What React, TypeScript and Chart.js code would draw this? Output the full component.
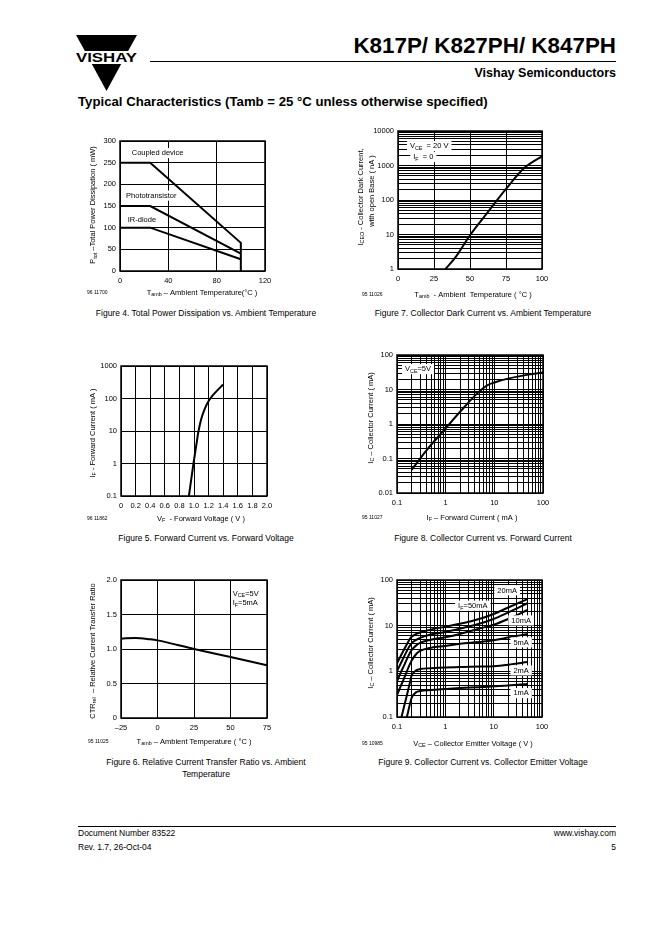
import React, { useEffect, useRef } from 'react';
import { Chart, registerables } from 'chart.js';

Chart.register(...registerables);

const FONT = '"Liberation Sans", Arial, Helvetica, sans-serif';

// ---------- Figure 4: total power dissipation ----------
const fig4TempCoupled = [0, 25, 100, 100];
const fig4Coupled = [250, 250, 65, 0];
const fig4TempPhoto = [0, 25, 100];
const fig4Photo = [150, 150, 40];
const fig4TempIr = [0, 25, 100];
const fig4Ir = [100, 100, 27];
const fig4XTicks = [0, 40, 80, 120];
const fig4YTicks = [0, 50, 100, 150, 200, 250, 300];

// ---------- Figure 7: collector dark current ----------
const fig7Temp = [33, 40, 50, 62.5, 75, 87.5, 100];
const fig7Iceo = [1, 2.2, 9.5, 45, 210, 830, 1850];
const fig7XTicks = [0, 25, 50, 75, 100];
const fig7YTicks = [1, 10, 100, 1000, 10000];

// ---------- Figure 5: forward current vs forward voltage ----------
const fig5Vf = [0.93, 0.99, 1.03, 1.06, 1.1, 1.15, 1.2, 1.25, 1.3, 1.4];
const fig5If = [0.1, 0.9, 3.5, 9.5, 24, 50, 84, 120, 160, 270];
const fig5XTicks = [0, 0.2, 0.4, 0.6, 0.8, 1.0, 1.2, 1.4, 1.6, 1.8, 2.0];
const fig5YTicks = [0.1, 1, 10, 100, 1000];

// ---------- Figure 8: collector current vs forward current ----------
const fig8If = [0.2, 0.4, 1, 2, 4.4, 7, 10, 20, 50, 100];
const fig8Ic = [0.047, 0.17, 0.75, 2.3, 7.6, 13, 16, 21, 27, 31];
const fig8XTicks = [0.1, 1, 10, 100];
const fig8YTicks = [0.01, 0.1, 1, 10, 100];

// ---------- Figure 6: relative CTR vs ambient temperature ----------
const fig6Temp = [-25, -15, -5, 0, 25, 50, 75];
const fig6Ctr = [1.15, 1.16, 1.14, 1.125, 1.0, 0.885, 0.765];
const fig6XTicks = [-25, 0, 25, 50, 75];
const fig6YTicks = [0, 0.5, 1.0, 1.5, 2.0];

// ---------- Figure 9: collector current vs collector emitter voltage ----------
const fig9Vce = [0.1, 0.12, 0.14, 0.16, 0.18, 0.2, 0.25, 0.3, 0.5, 1, 2, 5, 10, 20, 50];
const fig9Ic50mA = [1.5, 2.2, 3.0, 3.9, 4.9, 5.7, 6.6, 7.1, 8.2, 9.5, 11, 14, 18, 25, 38];
const fig9Ic20mA = [1.0, 1.5, 2.1, 2.8, 3.5, 4.1, 4.9, 5.4, 6.4, 7.3, 8.6, 11, 14, 19.5, 31];
const fig9Ic10mA = [0.6, 0.95, 1.35, 1.85, 2.4, 2.9, 3.7, 4.2, 4.9, 5.6, 6.6, 8.6, 10.5, 14, 22];
const fig9Ic5mA = [0.3, 0.48, 0.7, 1.0, 1.35, 1.7, 2.4, 2.8, 3.3, 3.6, 4.0, 4.4, 4.8, 5.5, 6.6];
const fig9Ic2mA = [0.065, 0.09, 0.17, 0.3, 0.5, 0.8, 1.05, 1.12, 1.17, 1.22, 1.24, 1.27, 1.3, 1.4, 1.6];
const fig9Ic1mA = [0.02, 0.035, 0.06, 0.1, 0.17, 0.26, 0.35, 0.37, 0.39, 0.41, 0.43, 0.45, 0.47, 0.49, 0.53];
const fig9XTicks = [0.1, 1, 10, 100];
const fig9YTicks = [0.1, 1, 10, 100];

// ---------------------------------------------------------------------------
type Seg = [string, boolean?];
interface TextItem {
  segs: Seg[];
  x: number;
  y: number;
  data?: boolean;
  align?: 'left' | 'center' | 'right';
  rotate?: boolean;
  size?: number;
  bg?: boolean;
}
interface AxisDef {
  type: 'linear' | 'logarithmic';
  min: number;
  max: number;
  labels: number[];
  grid: number[];
  fmt: (v: number) => string;
}
interface Series { x: number[]; y: number[]; smooth: boolean }
interface FigDef { l: number; t: number; w: number; h: number; x: AxisDef; y: AxisDef; series: Series[]; texts: TextItem[] }

const ML = 50, MT = 12, MR = 18, MB = 34;

function logGrid(min: number, max: number): number[] {
  const out: number[] = [];
  const k0 = Math.floor(Math.log10(min) + 1e-9);
  const k1 = Math.ceil(Math.log10(max) - 1e-9);
  for (let k = k0; k <= k1; k++) {
    for (let m = 1; m <= 9; m++) {
      const v = parseFloat((m * Math.pow(10, k)).toPrecision(6));
      if (v >= min * 0.999999 && v <= max * 1.000001) out.push(v);
    }
  }
  return out;
}

const plain = (v: number) => String(v);
const oneDec = (v: number) => (v === 0 ? '0' : v.toFixed(1));
const dashNeg = (v: number) => (v < 0 ? '\u2013' + Math.abs(v) : String(v));

function drawRich(ctx: CanvasRenderingContext2D, it: TextItem, x: number, y: number) {
  const size = it.size ?? 7.5;
  const sub = size * 0.72;
  ctx.save();
  ctx.translate(x, y);
  if (it.rotate) ctx.rotate(-Math.PI / 2);
  const widths = it.segs.map(([t, s]) => {
    ctx.font = `${s ? sub : size}px ${FONT}`;
    return ctx.measureText(t).width;
  });
  const total = widths.reduce((p, c) => p + c, 0);
  let sx = it.align === 'center' ? -total / 2 : it.align === 'right' ? -total : 0;
  if (it.bg) {
    ctx.fillStyle = '#fff';
    ctx.fillRect(sx - 3, -size * 0.62, total + 6, size * 1.35);
  }
  ctx.fillStyle = '#000';
  ctx.textBaseline = 'alphabetic';
  ctx.textAlign = 'left';
  const base = size * 0.36;
  it.segs.forEach(([t, s], i) => {
    ctx.font = `${s ? sub : size}px ${FONT}`;
    ctx.fillText(t, sx, s ? base + size * 0.22 : base);
    sx += widths[i];
  });
  ctx.restore();
}

function makeTextPlugin(items: TextItem[]) {
  return {
    id: 'richText',
    afterDatasetsDraw(chart: any) {
      const ctx = chart.ctx as CanvasRenderingContext2D;
      const a = chart.chartArea;
      for (const it of items) {
        const px = it.data ? chart.scales.x.getPixelForValue(it.x) : a.left + it.x;
        const py = it.data ? chart.scales.y.getPixelForValue(it.y) : a.top + it.y;
        drawRich(ctx, it, px, py);
      }
    },
  };
}

const framePlugin = {
  id: 'frame',
  beforeDatasetsDraw(chart: any) {
    const { ctx, chartArea: a } = chart;
    ctx.save();
    ctx.strokeStyle = '#000';
    ctx.lineWidth = 1.5;
    ctx.strokeRect(a.left, a.top, a.right - a.left, a.bottom - a.top);
    ctx.restore();
  },
};

function isLabel(labels: number[], v: number) {
  return labels.some((l) => Math.abs(l - v) <= 1e-9 * Math.max(1, Math.abs(l)));
}

function axisOptions(a: AxisDef, isX: boolean) {
  return {
    type: a.type,
    min: a.min,
    max: a.max,
    afterBuildTicks: (s: any) => {
      s.ticks = a.grid.map((v) => ({ value: v }));
    },
    afterFit: (s: any) => {
      if (isX) s.height = MB;
      else s.width = ML;
    },
    ticks: {
      autoSkip: false,
      maxRotation: 0,
      minRotation: 0,
      padding: isX ? 5 : 4,
      color: '#000',
      font: { family: FONT, size: 7.5 },
      callback: (v: any) => (isLabel(a.labels, Number(v)) ? a.fmt(Number(v)) : ''),
    },
    grid: { color: '#000', lineWidth: 1, drawTicks: false },
    border: { display: false },
  };
}

function Fig({ def }: { def: FigDef }) {
  const ref = useRef<HTMLCanvasElement>(null);
  const W = def.w + ML + MR;
  const H = def.h + MT + MB;
  useEffect(() => {
    const canvas = ref.current;
    if (!canvas) return;
    const chart = new Chart(canvas, {
      type: 'line',
      data: {
        datasets: def.series.map((s) => ({
          data: s.x.map((xv, i) => ({ x: xv, y: s.y[i] })),
          borderColor: '#000',
          borderWidth: 2,
          pointRadius: 0,
          fill: false,
          tension: 0,
          cubicInterpolationMode: s.smooth ? 'monotone' : 'default',
        })),
      } as any,
      options: {
        animation: false,
        responsive: false,
        devicePixelRatio: 1,
        events: [],
        layout: { padding: { left: 0, top: MT, right: MR, bottom: 0 } },
        plugins: { legend: { display: false }, tooltip: { enabled: false } },
        scales: { x: axisOptions(def.x, true), y: axisOptions(def.y, false) } as any,
      },
      plugins: [framePlugin, makeTextPlugin(def.texts)] as any,
    });
    return () => chart.destroy();
  }, [def]);
  return (
    <canvas
      ref={ref}
      width={W}
      height={H}
      style={{ position: 'absolute', left: def.l - ML, top: def.t - MT, width: W, height: H }}
    />
  );
}

const lin = (labels: number[], fmt: (v: number) => string = plain): AxisDef => ({
  type: 'linear',
  min: labels[0],
  max: labels[labels.length - 1],
  labels,
  grid: labels,
  fmt,
});
const logAx = (labels: number[], minor: boolean): AxisDef => ({
  type: 'logarithmic',
  min: labels[0],
  max: labels[labels.length - 1],
  labels,
  grid: minor ? logGrid(labels[0], labels[labels.length - 1]) : labels,
  fmt: plain,
});

const FIG4: FigDef = {
  l: 120, t: 141, w: 145, h: 130,
  x: lin(fig4XTicks),
  y: lin(fig4YTicks),
  series: [
    { x: fig4TempCoupled, y: fig4Coupled, smooth: false },
    { x: fig4TempPhoto, y: fig4Photo, smooth: false },
    { x: fig4TempIr, y: fig4Ir, smooth: false },
  ],
  texts: [
    { segs: [['P'], ['tot', true], [' \u2013Total Power Dissipation ( mW)']], x: -27.5, y: 64, rotate: true, align: 'center' },
    { segs: [['T'], ['amb', true], [' \u2013 Ambient Temperature(\u00b0C )']], x: 82, y: 151, align: 'center' },
    { segs: [['96 11700']], x: -33, y: 151, size: 5 },
    { segs: [['Coupled device']], x: 9.7, y: 273, data: true, bg: true },
    { segs: [['Phototransistor']], x: 5, y: 175, data: true, bg: true },
    { segs: [['IR-diode']], x: 6.4, y: 119, data: true, bg: true },
  ],
};

const FIG7: FigDef = {
  l: 398, t: 131, w: 144, h: 138,
  x: lin(fig7XTicks),
  y: logAx(fig7YTicks, true),
  series: [{ x: fig7Temp, y: fig7Iceo, smooth: true }],
  texts: [
    { segs: [['I'], ['CEO', true], [' - Collector Dark Current,']], x: -38, y: 66, rotate: true, align: 'center' },
    { segs: [['with open Base ( nA )']], x: -27, y: 60, rotate: true, align: 'center' },
    { segs: [['T'], ['amb', true], ['  - Ambient  Temperature ( \u00b0C )']], x: 75, y: 163, align: 'center' },
    { segs: [['95 11026']], x: -36, y: 163, size: 5 },
    { segs: [['V'], ['CE', true], ['  = 20 V']], x: 8.3, y: 3750, data: true, bg: true },
    { segs: [['I'], ['F', true], ['  = 0']], x: 10.6, y: 1800, data: true, bg: true },
  ],
};

const FIG5: FigDef = {
  l: 121, t: 366, w: 146, h: 130,
  x: lin(fig5XTicks, oneDec),
  y: logAx(fig5YTicks, false),
  series: [{ x: fig5Vf, y: fig5If, smooth: true }],
  texts: [
    { segs: [['I'], ['F', true], [' - Forward Current ( mA )']], x: -29, y: 67, rotate: true, align: 'center' },
    { segs: [['V'], ['F', true], ['  - Forward Voltage ( V )']], x: 80, y: 152, align: 'center' },
    { segs: [['96 11862']], x: -34, y: 152, size: 5 },
  ],
};

const FIG8: FigDef = {
  l: 397, t: 355, w: 146, h: 138,
  x: logAx(fig8XTicks, true),
  y: logAx(fig8YTicks, true),
  series: [{ x: fig8If, y: fig8Ic, smooth: true }],
  texts: [
    { segs: [['I'], ['C', true], [' \u2013 Collector Current ( mA)']], x: -27, y: 63, rotate: true, align: 'center' },
    { segs: [['I'], ['F', true], [' \u2013 Forward Current ( mA )']], x: 75, y: 162, align: 'center' },
    { segs: [['95 11027']], x: -35, y: 162, size: 5 },
    { segs: [['V'], ['CE', true], ['=5V']], x: 0.146, y: 40, data: true, bg: true },
  ],
};

const FIG6: FigDef = {
  l: 121, t: 580, w: 146, h: 138,
  x: lin(fig6XTicks, dashNeg),
  y: lin(fig6YTicks, oneDec),
  series: [{ x: fig6Temp, y: fig6Ctr, smooth: true }],
  texts: [
    { segs: [['CTR'], ['rel', true], ['  \u2013 Relative Current Transfer Ratio']], x: -29, y: 71, rotate: true, align: 'center' },
    { segs: [['T'], ['amb', true], [' \u2013 Ambient Temperature ( \u00b0C )']], x: 73, y: 161, align: 'center' },
    { segs: [['95 11025']], x: -33, y: 161, size: 5 },
    { segs: [['V'], ['CE', true], ['=5V']], x: 51.5, y: 1.81, data: true },
    { segs: [['I'], ['F', true], ['=5mA']], x: 51.5, y: 1.67, data: true },
  ],
};

const FIG9: FigDef = {
  l: 397, t: 580, w: 145, h: 137,
  x: logAx(fig9XTicks, true),
  y: logAx(fig9YTicks, true),
  series: [
    { x: fig9Vce, y: fig9Ic50mA, smooth: true },
    { x: fig9Vce, y: fig9Ic20mA, smooth: true },
    { x: fig9Vce, y: fig9Ic10mA, smooth: true },
    { x: fig9Vce, y: fig9Ic5mA, smooth: true },
    { x: fig9Vce, y: fig9Ic2mA, smooth: true },
    { x: fig9Vce, y: fig9Ic1mA, smooth: true },
  ],
  texts: [
    { segs: [['I'], ['C', true], [' \u2013 Collector Current ( mA)']], x: -27, y: 63, rotate: true, align: 'center' },
    { segs: [['V'], ['CE', true], [' \u2013 Collector Emitter Voltage ( V )']], x: 76, y: 163, align: 'center' },
    { segs: [['95 10985']], x: -35, y: 163, size: 5 },
    { segs: [['20mA']], x: 19, y: 61, data: true, bg: true, align: 'center' },
    { segs: [['I'], ['F', true], ['=50mA']], x: 3.7, y: 28, data: true, bg: true, align: 'center' },
    { segs: [['10mA']], x: 37, y: 13.3, data: true, bg: true, align: 'center' },
    { segs: [['5mA']], x: 37, y: 4.4, data: true, bg: true, align: 'center' },
    { segs: [['2mA']], x: 37, y: 1.07, data: true, bg: true, align: 'center' },
    { segs: [['1mA']], x: 37, y: 0.34, data: true, bg: true, align: 'center' },
  ],
};

const FIGS = [FIG4, FIG7, FIG5, FIG8, FIG6, FIG9];

function Txt({ x, base, size, bold, align = 'left', children }: any) {
  const top = base - 0.8465 * size;
  const style: any = {
    position: 'absolute',
    top,
    fontSize: size,
    lineHeight: `${size}px`,
    fontWeight: bold ? 'bold' : 'normal',
    whiteSpace: 'nowrap',
  };
  if (align === 'left') style.left = x;
  else if (align === 'right') style.right = 662 - x;
  else {
    style.left = x - 200;
    style.width = 400;
    style.textAlign = 'center';
  }
  return <div style={style}>{children}</div>;
}

function Logo() {
  return (
    <svg style={{ position: 'absolute', left: 0, top: 0 }} width={160} height={100}>
      <polygon points="76,35 137,35 128.1,51 84.9,51" fill="#000" />
      <text
        x={106.5}
        y={61.5}
        textAnchor="middle"
        fontFamily={FONT}
        fontWeight="bold"
        fontSize={12.5}
        textLength={61}
        lengthAdjust="spacingAndGlyphs"
      >
        VISHAY
      </text>
      <polygon points="91.8,64 121.2,64 106.5,91" fill="#000" />
    </svg>
  );
}

export default function App() {
  return (
    <div
      style={{
        position: 'absolute',
        left: 0,
        top: 0,
        width: 662,
        height: 936,
        background: '#fff',
        overflow: 'hidden',
        fontFamily: FONT,
        color: '#000',
      }}
    >
      <Logo />
      <Txt x={616} base={54} size={22.4} bold align="right">K817P/ K827PH/ K847PH</Txt>
      <div style={{ position: 'absolute', left: 150, top: 61, width: 466, height: 1, background: '#000' }} />
      <Txt x={616} base={77.5} size={12.5} bold align="right">Vishay Semiconductors</Txt>
      <Txt x={78} base={106.5} size={13.2} bold>Typical Characteristics (Tamb = 25 °C unless otherwise specified)</Txt>

      {FIGS.map((f, i) => (
        <Fig key={i} def={f} />
      ))}

      <Txt x={206} base={316} size={8.5} align="center">Figure 4. Total Power Dissipation vs. Ambient Temperature</Txt>
      <Txt x={483} base={316} size={8.5} align="center">Figure 7. Collector Dark Current vs. Ambient Temperature</Txt>
      <Txt x={206} base={541} size={8.5} align="center">Figure 5. Forward Current vs. Forward Voltage</Txt>
      <Txt x={483} base={541} size={8.5} align="center">Figure 8. Collector Current vs. Forward Current</Txt>
      <Txt x={206} base={765} size={8.5} align="center">Figure 6. Relative Current Transfer Ratio vs. Ambient</Txt>
      <Txt x={206} base={777} size={8.5} align="center">Temperature</Txt>
      <Txt x={483} base={765} size={8.5} align="center">Figure 9. Collector Current vs. Collector Emitter Voltage</Txt>

      <div style={{ position: 'absolute', left: 78, top: 826, width: 538, height: 1, background: '#000' }} />
      <Txt x={78} base={836} size={8.5}>Document Number 83522</Txt>
      <Txt x={78} base={850.5} size={8.5}>Rev. 1.7, 26-Oct-04</Txt>
      <Txt x={616} base={836} size={8.5} align="right">www.vishay.com</Txt>
      <Txt x={616} base={850.5} size={8.5} align="right">5</Txt>
    </div>
  );
}
